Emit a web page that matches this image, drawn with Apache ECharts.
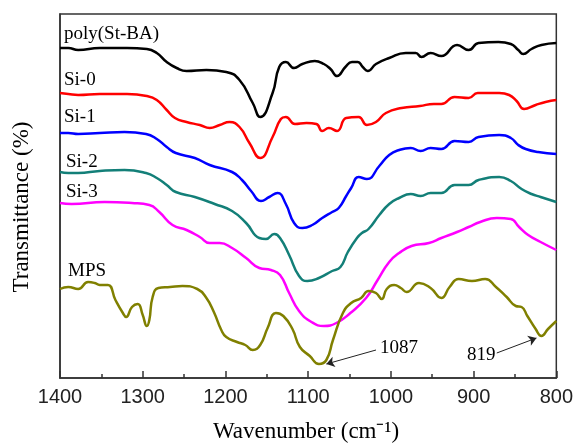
<!DOCTYPE html>
<html>
<head>
<meta charset="utf-8">
<script src="https://cdn.jsdelivr.net/npm/echarts@6/dist/echarts.min.js"></script>
<style>
  html, body { margin: 0; padding: 0; background: #fff; }
  #main { width: 576px; height: 446px; }
</style>
</head>
<body>
<div id="main"></div>
<script>
// FTIR spectra, [wavenumber, transmittance (arbitrary, curves offset)]
var polyStBA = [
  [1400, 330], [1390, 330], [1378, 328], [1352, 330], [1319, 330],
  [1295, 329], [1283, 325], [1271, 316], [1259, 310], [1247, 307], [1223, 308],
  [1199, 306], [1183, 298], [1167, 275], [1158, 261], [1143, 285],
  [1135, 311], [1127, 316], [1117, 310], [1107, 314], [1092, 317], [1081, 314],
  [1073, 309], [1065, 302], [1055, 311], [1047, 316], [1040, 316], [1034, 311],
  [1028, 307], [1018, 314], [1002, 320], [982, 325], [970, 325], [963, 321],
  [952, 325], [939, 322], [920, 333], [906, 328], [894, 335], [870, 336],
  [855, 334], [846, 328], [840, 324], [830, 329], [818, 333], [800, 335]
];
var si0 = [
  [1400, 285], [1390, 284], [1378, 283], [1352, 284], [1319, 284],
  [1295, 282], [1283, 278], [1271, 268], [1261, 260], [1247, 256], [1231, 253],
  [1219, 250], [1207, 253], [1195, 256], [1183, 251], [1171, 235], [1158, 220],
  [1143, 241], [1133, 259], [1127, 261], [1116, 254], [1102, 255],
  [1090, 254], [1083, 247], [1075, 250], [1065, 247], [1054, 260], [1039, 261],
  [1029, 253], [1018, 256], [1006, 265], [987, 270], [965, 272], [948, 274],
  [939, 274], [923, 281], [906, 280], [895, 285], [869, 285], [857, 283],
  [848, 277], [839, 269], [825, 273], [813, 276], [800, 278]
];
var si1 = [
  [1400, 245], [1390, 245], [1378, 244], [1352, 245], [1322, 246],
  [1296, 244], [1283, 239], [1271, 231], [1260, 225], [1237, 220], [1219, 213],
  [1192, 206], [1180, 198], [1169, 187], [1157, 177], [1147, 181], [1137, 185],
  [1127, 174], [1117, 155], [1107, 150], [1095, 153], [1083, 160], [1071, 166],
  [1063, 170], [1054, 182], [1048, 190], [1039, 201], [1029, 199], [1014, 212],
  [1002, 223], [990, 228], [976, 230], [964, 227], [952, 230], [939, 229],
  [923, 237], [906, 236], [894, 241], [869, 243], [855, 240], [846, 233],
  [837, 229], [822, 226], [800, 224]
];
var si2 = [
  [1400, 206], [1390, 205], [1378, 205], [1352, 207], [1322, 208],
  [1296, 205], [1283, 200], [1271, 193], [1260, 186], [1237, 181], [1213, 174],
  [1192, 167], [1175, 155], [1159, 140], [1151, 139], [1141, 144], [1134, 140],
  [1123, 123], [1111, 102], [1101, 97], [1087, 100], [1071, 107], [1061, 111],
  [1052, 126], [1041, 140], [1035, 145], [1027, 149], [1014, 163], [1002, 174],
  [990, 180], [976, 184], [964, 182], [952, 185], [939, 185], [923, 193],
  [906, 193], [894, 198], [869, 201], [855, 197], [842, 189], [830, 184],
  [819, 181], [800, 176]
];
var si3 = [
  [1400, 175], [1386, 174], [1346, 176], [1313, 175], [1292, 173],
  [1280, 166], [1264, 153], [1247, 148], [1231, 141], [1219, 135], [1207, 135],
  [1192, 130], [1175, 120], [1159, 110], [1145, 108], [1134, 103], [1123, 85],
  [1111, 67], [1096, 56], [1081, 52], [1066, 55], [1049, 65], [1030, 80],
  [1016, 98], [1002, 116], [990, 125], [975, 132], [954, 135], [939, 140],
  [920, 146], [906, 151], [892, 156], [872, 160], [855, 159], [845, 151],
  [834, 143], [819, 136], [800, 128]
];
var mps = [
  [1400, 89], [1390, 91], [1378, 89], [1366, 96], [1358, 95],
  [1352, 93], [1342, 93], [1333, 78], [1324, 65], [1320, 61], [1313, 71],
  [1306, 74], [1300, 63], [1295, 52], [1292, 58], [1288, 81], [1281, 90],
  [1267, 91], [1252, 92], [1234, 89], [1223, 80], [1214, 66], [1205, 48],
  [1199, 41], [1186, 36], [1176, 33], [1167, 28], [1158, 33], [1149, 50],
  [1139, 65], [1130, 62], [1119, 49], [1110, 31], [1098, 22], [1087, 14],
  [1078, 18], [1070, 38], [1058, 65], [1048, 75], [1036, 80], [1027, 87],
  [1018, 85], [1011, 79], [1005, 89], [996, 93], [988, 90], [981, 86],
  [966, 95], [952, 90], [939, 80], [929, 91], [918, 99], [902, 97],
  [886, 99], [873, 91], [860, 81], [849, 72], [842, 71], [835, 62],
  [825, 49], [818, 42], [810, 49], [800, 57]
];
var seriesNames = ['poly(St-BA)', 'Si-0', 'Si-1', 'Si-2', 'Si-3', 'MPS'];
var seriesColors = ['#000000', '#ff0000', '#0000ff', '#137f78', '#ff00ff', '#808000'];
var seriesData = [polyStBA, si0, si1, si2, si3, mps];

var chart = echarts.init(document.getElementById('main'));

var series = seriesData.map(function (d, i) {
  return {
    name: seriesNames[i],
    type: 'line',
    data: d,
    smooth: 0.5,
    showSymbol: false,
    lineStyle: { color: seriesColors[i], width: 2.5 },
    z: 3
  };
});

// peak arrows on MPS
series[5].markLine = {
  silent: true,
  symbol: ['none', 'arrow'],
  symbolSize: 8,
  label: { show: false },
  lineStyle: { color: '#222', width: 1, type: 'solid' },
  data: [
    [{ coord: [1018, 28] }, { coord: [1078, 14] }],
    [{ coord: [872, 25] }, { coord: [824, 40] }]
  ]
};

var serif = '"Liberation Serif", "Times New Roman", serif';
function label(text, x, y, size) {
  return {
    type: 'text', x: x, y: y, z: 10,
    style: { text: text, fill: '#000', font: (size || 19) + 'px ' + serif, textVerticalAlign: 'middle' }
  };
}

chart.setOption({
  animation: false,
  grid: { left: 60, right: 18, top: 14, bottom: 68, show: true, borderColor: '#333', borderWidth: 1.5 },
  xAxis: {
    type: 'value',
    inverse: true,
    min: 800,
    max: 1400,
    interval: 100,
    axisLine: { lineStyle: { color: '#333', width: 1.5 } },
    axisTick: { inside: true, length: 7, lineStyle: { color: '#333', width: 1.5 } },
    minorTick: { show: true, splitNumber: 2, length: 4, lineStyle: { color: '#333', width: 1.5 } },
    axisLabel: {
      color: '#222', fontSize: 20, fontFamily: '"Liberation Sans", Arial, sans-serif', margin: 9,
      formatter: function (v) { return String(v); }
    },
    splitLine: { show: false }
  },
  yAxis: {
    type: 'value',
    min: 0,
    max: 364,
    axisLine: { show: true, lineStyle: { color: '#333', width: 1.5 } },
    axisTick: { show: false },
    axisLabel: { show: false },
    splitLine: { show: false }
  },
  graphic: [
    label('poly(St-BA)', 64, 34),
    label('Si-0', 64, 80),
    label('Si-1', 64, 117),
    label('Si-2', 66, 162),
    label('Si-3', 66, 192),
    label('MPS', 68, 271),
    label('1087', 380, 348),
    label('819', 467, 355),
    {
      type: 'text', x: 306, y: 432, z: 10,
      style: { text: 'Wavenumber (cm\u207B\u00B9)', fill: '#000', font: '23px ' + serif, textAlign: 'center', textVerticalAlign: 'middle' }
    },
    {
      type: 'text', x: 22, y: 207, z: 10, rotation: Math.PI / 2,
      style: { text: 'Transmittance (%)', fill: '#000', font: '23px ' + serif, textAlign: 'center', textVerticalAlign: 'middle' }
    }
  ],
  series: series
});
</script>
</body>
</html>
